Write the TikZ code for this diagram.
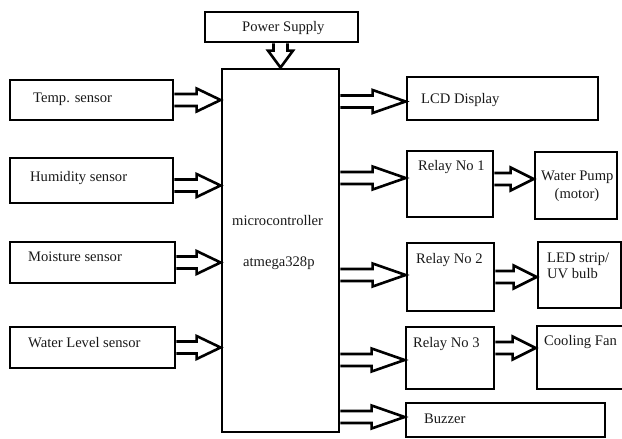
\documentclass[tikz,border=0pt]{standalone}
\usepackage{fontspec}
\setmainfont{Liberation Serif}
\usetikzlibrary{calc}
\tikzset{
  box/.style={draw, line width=2.8pt, inner sep=0pt, rectangle},
  lbl/.style={inner sep=0pt, anchor=base west, font=\fontsize{14.6}{17}\selectfont, text=black!90},
  blk/.style={draw, line width=2.6pt, line join=miter, fill=white}
}
% hollow block arrow: #1 head length, #2 x-start point, #3 x-end point, #4 y reference point
\newcommand{\harrow}[4][25]{%
  \draw[blk] let \p1=#2, \p2=#3, \p3=#4 in
    (\x1,{\y3+6pt}) -- ({\x2-#1pt},{\y3+6pt}) -- ({\x2-#1pt},{\y3+11.5pt}) -- (\x2,\y3)
    -- ({\x2-#1pt},{\y3-11.5pt}) -- ({\x2-#1pt},{\y3-6pt}) -- (\x1,{\y3-6pt});}
\begin{document}
\begin{tikzpicture}[x=1pt,y=-1pt]
\useasboundingbox (0,0) rectangle (622,439);
% boxes
\node[box, minimum width=153, minimum height=30] (ps) at (281.5,27) {};
\node[box, minimum width=117, minimum height=363] (mc) at (280.5,250.5) {};
\node[box, minimum width=163, minimum height=40] (temp) at (91.5,100) {};
\node[box, minimum width=163, minimum height=45] (hum) at (91.5,180.5) {};
\node[box, minimum width=165, minimum height=41] (moist) at (92.5,262.5) {};
\node[box, minimum width=165, minimum height=41] (water) at (92.5,347.5) {};
\node[box, minimum width=191, minimum height=43] (lcd) at (502.5,98.5) {};
\node[box, minimum width=86, minimum height=66] (r1) at (450,184) {};
\node[box, minimum width=82, minimum height=67] (pump) at (576,185.5) {};
\node[box, minimum width=87, minimum height=68] (r2) at (450.5,277) {};
\node[box, minimum width=83, minimum height=66] (led) at (579.5,275) {};
\node[box, minimum width=88, minimum height=62] (r3) at (450,358) {};
\node[box, minimum width=95, minimum height=63] (fan) at (584.5,357.5) {};
\node[box, minimum width=199, minimum height=34] (buzz) at (505.5,420) {};
% texts
\node[lbl] (tps) at (242,31) {Power Supply};
\node[lbl] (ttemp) at (33,102) {Temp. sensor};
\node[lbl] (thum) at (30,181) {Humidity sensor};
\node[lbl] (tmoist) at (28,261) {Moisture sensor};
\node[lbl] (twater) at (28,347) {Water Level sensor};
\node[lbl] (tmc1) at (232,225) {microcontroller};
\node[lbl] (tmc2) at (243,266) {atmega328p};
\node[lbl] (tlcd) at (421,103) {LCD Display};
\node[lbl] (tr1) at (418,170) {Relay No 1};
\node[lbl] (tpump1) at (541,180) {Water Pump};
\node[lbl, anchor=base] (tpump2) at (577,198) {(motor)};
\node[lbl] (tr2) at (416,263) {Relay No 2};
\node[lbl] (tled1) at (547,262) {LED strip/};
\node[lbl] (tled2) at (547,278) {UV bulb};
\node[lbl] (tr3) at (413,347) {Relay No 3};
\node[lbl] (tfan) at (544,345) {Cooling Fan};
\node[lbl] (tbuzz) at (424,423) {Buzzer};
% power arrow
\draw[blk] let \p1=(ps.south), \p2=(mc.north) in
  ({\x2-7pt},\y1) -- ({\x2-7pt},{\y2+17pt}) -- ({\x2-12.5pt},{\y2+17pt}) -- (\x2,\y2)
  -- ({\x2+12.5pt},{\y2+17pt}) -- ({\x2+7pt},{\y2+17pt}) -- ({\x2+7pt},\y1);
% sensor arrows
\harrow[24]{(temp.east)}{(mc.west)}{(temp.east)}
\harrow[24]{(hum.east)}{(mc.west)}{($(hum.east)+(0,-5pt)$)}
\harrow[24]{(moist.east)}{(mc.west)}{(moist.east)}
\harrow[24]{(water.east)}{(mc.west)}{(water.east)}
% output arrows
\harrow[33]{(mc.east)}{(lcd.west)}{($(lcd.west)+(0,-3pt)$)}
\harrow[33]{(mc.east)}{(r1.west)}{($(r1.west)+(0,6pt)$)}
\harrow[33]{(mc.east)}{(r2.west)}{($(r2.west)+(0,2pt)$)}
\harrow[33]{(mc.east)}{(r3.west)}{($(r3.west)+(0,-2pt)$)}
\harrow[33]{(mc.east)}{(buzz.west)}{($(buzz.west)+(0,3pt)$)}
% relay arrows
\harrow[23]{(r1.east)}{(pump.west)}{($(r1.east)+(0,5pt)$)}
\harrow[23]{(r2.east)}{(led.west)}{(r2.east)}
\harrow[23]{(r3.east)}{(fan.west)}{($(r3.east)+(0,10pt)$)}
\end{tikzpicture}
\end{document}
